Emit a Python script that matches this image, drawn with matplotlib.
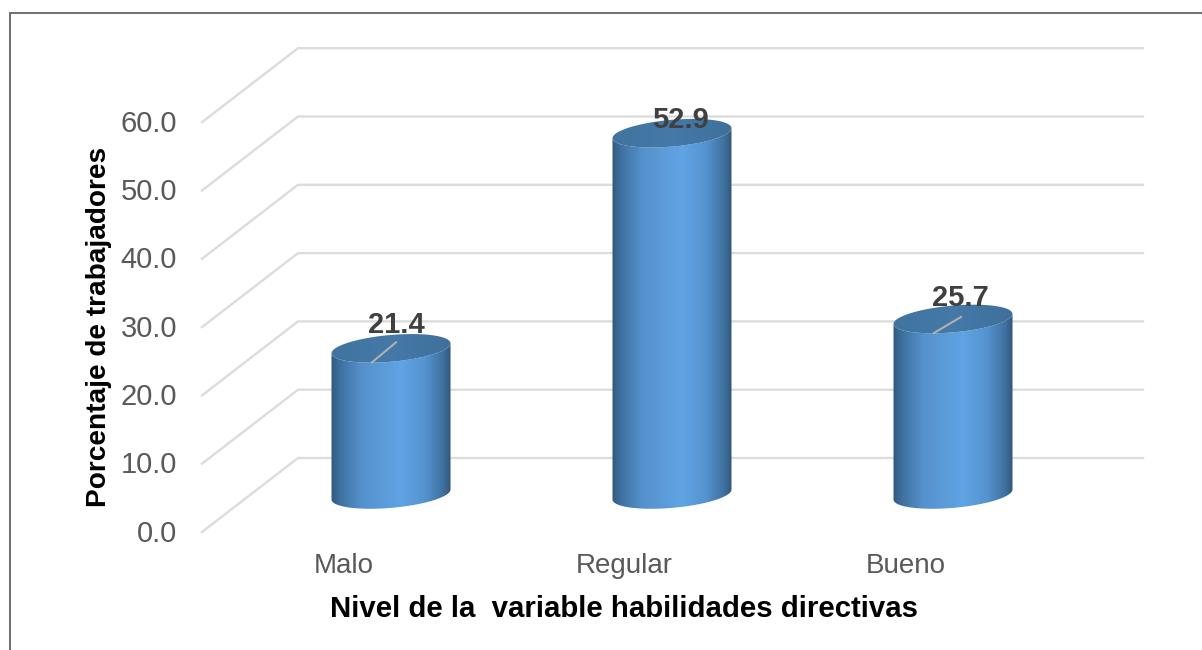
import numpy as np
import matplotlib
matplotlib.use("Agg")
import matplotlib.pyplot as plt
from matplotlib.path import Path
from matplotlib.patches import PathPatch
from matplotlib.colors import LinearSegmentedColormap

categories = ["Malo", "Regular", "Bueno"]
values = [21.4, 52.9, 25.7]
value_labels = ["21.4", "52.9", "25.7"]
y_ticks = [0, 10, 20, 30, 40, 50, 60]
x_title = "Nivel de la  variable habilidades directivas"
y_title = "Porcentaje de trabajadores"

# Label placement relative to each cylinder top, in pixels
label_dx = [5, 8, 7]
label_lift = [23.5, 13.5, 20.5]
# Leader line ends relative to each cylinder top, in pixels (None: no leader)
leaders = [((-19, -14), (5, 6)), None, ((-19, -14), (8, 2))]

W, H = 1202, 650
PX_PER_CAT = 281.0
PX_PER_UNIT = 6.83
X0_PX, Y0_PX = 391.0, 494.5

plt.rcParams["font.family"] = ["Liberation Sans", "DejaVu Sans"]
fig = plt.figure(figsize=(W / 100, H / 100), dpi=100, facecolor="white")
ax = fig.add_axes([0, 0, 1, 1])
ax.axis("off")

dx = lambda px: px / PX_PER_CAT      # pixel offset to category units
dy = lambda px: px / PX_PER_UNIT     # pixel offset to value units

# Outer chart frame: only the top and left edges fall inside the figure
ax.plot([dx(10 - X0_PX), dx(10 - X0_PX), dx(W - X0_PX)],
        [dy(Y0_PX - H), dy(Y0_PX - 13), dy(Y0_PX - 13)],
        color="#6e6e6e", lw=1.4, zorder=1, solid_joinstyle="miter", solid_capstyle="butt")

# Floor-to-wall gridlines of the 3D box
wall_off = dy(Y0_PX - 458)
front_off = dy(Y0_PX - 532)
for t in y_ticks:
    ax.plot([dx(202 - X0_PX), dx(298 - X0_PX), dx(1143 - X0_PX)],
            [t + front_off, t + wall_off, t + wall_off],
            color="#dcdcdc", lw=1.7, zorder=2, solid_joinstyle="miter")
    ax.text(dx(177 - X0_PX), t + front_off - dy(1.5), f"{t:.1f}", ha="right", va="center",
            fontsize=21, color="#595959", zorder=5)

# Cylinders
A, B, SHEAR = 59.5, 13.4, 5.0
cmap = LinearSegmentedColormap.from_list(
    "cyl", [(0, "#305a7e"), (0.08, "#3f72a2"), (0.25, "#5591cc"), (0.58, "#60a4e4"),
            (0.78, "#5493cf"), (0.93, "#3f709f"), (1, "#2f5374")])
cap_cmap = LinearSegmentedColormap.from_list(
    "cap", [(0, "#41749f"), (0.5, "#4479a8"), (1, "#3f709a")])


def end_px(t):
    """Outline of a cylinder end as pixel offsets (y up), sheared so the sides stay vertical."""
    return A * np.cos(t), B * np.sin(t) + SHEAR * np.cos(t)


for i, v in enumerate(values):
    left, right = i - dx(A + 1), i + dx(A + 1)

    # Body: lower half of the base outline joined to the lower half of the top outline
    bx, by = end_px(np.linspace(np.pi, 2 * np.pi, 80))
    base = np.column_stack([i + dx(bx), dy(by)])
    top = np.column_stack([i + dx(bx), v + dy(by)])[::-1]
    clip = PathPatch(Path(np.vstack([base, top, base[:1]])), fc="none", ec="none",
                     transform=ax.transData)
    ax.add_patch(clip)
    im = ax.imshow(np.linspace(0, 1, 256)[None, :], cmap=cmap, aspect="auto",
                   extent=[left, right, -dy(30), v + dy(30)], zorder=3,
                   interpolation="bilinear")
    im.set_clip_path(clip)

    # Top cap
    cx, cy = end_px(np.linspace(0, 2 * np.pi, 160))
    cap = PathPatch(Path(np.column_stack([i + dx(cx), v + dy(cy)])), fc="none", ec="none",
                    transform=ax.transData)
    ax.add_patch(cap)
    imc = ax.imshow(np.linspace(0, 1, 64)[None, :], cmap=cap_cmap, aspect="auto",
                    extent=[left, right, v - dy(30), v + dy(30)], zorder=4,
                    interpolation="bilinear")
    imc.set_clip_path(cap)

    if leaders[i] is not None:
        (x1, y1), (x2, y2) = leaders[i]
        ax.plot([i + dx(x1), i + dx(x2)], [v + dy(y1), v + dy(y2)],
                color="#b0b0b0", lw=1.5, zorder=5)

    ax.text(i + dx(label_dx[i]), v + dy(label_lift[i]), value_labels[i], ha="center",
            va="center", fontsize=21, fontweight="bold", color="#404040", zorder=6)
    ax.text(i + dx(-47.5), dy(Y0_PX - 566), categories[i], ha="center", va="center",
            fontsize=20, color="#595959", zorder=5)

ax.set_xlim((0 - X0_PX) / PX_PER_CAT, (W - X0_PX) / PX_PER_CAT)
ax.set_ylim((Y0_PX - H) / PX_PER_UNIT, Y0_PX / PX_PER_UNIT)

ax.text(dx(624 - X0_PX), dy(Y0_PX - 609), x_title, ha="center", va="center",
        fontsize=21.2, fontweight="bold", color="black")
ax.text(dx(99 - X0_PX), dy(Y0_PX - 327), y_title, ha="center", va="center",
        rotation=90, fontsize=20.2, fontweight="bold", color="black")

fig.savefig("out.png", dpi=100)
